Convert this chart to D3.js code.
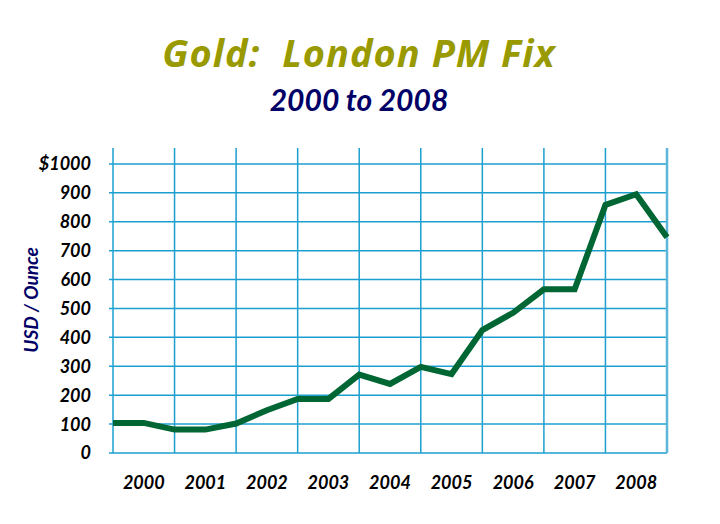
<!DOCTYPE html>
<html lang="en">
<head>
    <meta charset="UTF-8">
    <title>Gold: London PM Fix</title>
    <script src="https://d3js.org/d3.v7.min.js"></script>
    <style>
        body {
            margin: 0;
            background: #fff;
            font-family: Lato, "Open Sans", sans-serif;
        }
        .title {
            font-weight: bold;
            font-style: italic;
        }
        .tick-label {
            font-weight: bold;
            font-style: italic;
            font-size: 18px;
            fill: #000;
        }
    </style>
</head>
<body>
    <svg id="chart"></svg>

    <script>
        // dados (meio ano por ponto)
        const periods = [2000, 2000.5, 2001, 2001.5, 2002, 2002.5, 2003, 2003.5, 2004, 2004.5,
                         2005, 2005.5, 2006, 2006.5, 2007, 2007.5, 2008, 2008.5, 2009];
        const prices = [104, 104, 81, 81, 102, 148, 187, 187, 271, 239,
                        298, 273, 425, 485, 566, 566, 858, 895, 746];
        const years = [2000, 2001, 2002, 2003, 2004, 2005, 2006, 2007, 2008];
        const yTicks = [0, 100, 200, 300, 400, 500, 600, 700, 800, 900, 1000];
        const yTickLabels = ["0", "100", "200", "300", "400", "500", "600", "700", "800", "900", "$1000"];

        const width = 720;
        const height = 524;
        const margin = { left: 113, right: 53, top: 148, bottom: 71 };

        const svg = d3.select("#chart")
                      .attr("width", width)
                      .attr("height", height);

        const x = d3.scaleLinear()
                    .domain([2000, 2009])
                    .range([margin.left, width - margin.right]);

        const y = d3.scaleLinear()
                    .domain([0, 1055])
                    .range([height - margin.bottom, margin.top]);

        const gridColor = "#1b9fcf";

        // linhas horizontais
        svg.append("g")
           .selectAll("line")
           .data(yTicks)
           .enter()
           .append("line")
           .attr("x1", margin.left - 4)
           .attr("x2", width - margin.right)
           .attr("y1", d => y(d))
           .attr("y2", d => y(d))
           .attr("stroke", gridColor)
           .attr("stroke-width", 1.5);

        // linhas verticais (limites dos anos)
        svg.append("g")
           .selectAll("line")
           .data(years)
           .enter()
           .append("line")
           .attr("x1", d => x(d))
           .attr("x2", d => x(d))
           .attr("y1", y(0))
           .attr("y2", y(1055))
           .attr("stroke", gridColor)
           .attr("stroke-width", 1.5);

        // borda direita
        svg.append("line")
           .attr("x1", x(2009))
           .attr("x2", x(2009))
           .attr("y1", y(0))
           .attr("y2", y(1055))
           .attr("stroke", "#5db5da")
           .attr("stroke-width", 2.5);

        // rotulos do eixo y
        svg.append("g")
           .selectAll("text")
           .data(yTicks)
           .enter()
           .append("text")
           .attr("class", "tick-label")
           .attr("x", 91)
           .attr("y", d => y(d))
           .attr("dy", "0.36em")
           .attr("text-anchor", "end")
           .text((d, i) => yTickLabels[i]);

        // rotulos dos anos
        svg.append("g")
           .selectAll("text")
           .data(years)
           .enter()
           .append("text")
           .attr("class", "tick-label")
           .attr("x", d => x(d + 0.5))
           .attr("y", 489)
           .attr("text-anchor", "middle")
           .text(d => d);

        // linha do preco
        const line = d3.line()
                       .x((d, i) => x(periods[i]))
                       .y(d => y(d));

        svg.append("path")
           .datum(prices)
           .attr("d", line)
           .attr("fill", "none")
           .attr("stroke", "#006633")
           .attr("stroke-width", 6)
           .attr("stroke-linejoin", "miter");

        // titulos
        svg.append("text")
           .attr("class", "title")
           .attr("x", 359)
           .attr("y", 67)
           .attr("text-anchor", "middle")
           .attr("font-family", "'Open Sans', sans-serif")
           .attr("font-size", 38)
           .attr("letter-spacing", 1)
           .attr("fill", "#999900")
           .text("Gold:\u00a0 London PM Fix");

        svg.append("text")
           .attr("class", "title")
           .attr("x", 359)
           .attr("y", 111)
           .attr("text-anchor", "middle")
           .attr("font-size", 30)
           .attr("fill", "#000066")
           .text("2000 to 2008");

        svg.append("text")
           .attr("class", "title")
           .attr("transform", "translate(38,300) rotate(-90)")
           .attr("text-anchor", "middle")
           .attr("font-size", 19)
           .attr("fill", "#000066")
           .text("USD / Ounce");
    </script>
</body>
</html>
